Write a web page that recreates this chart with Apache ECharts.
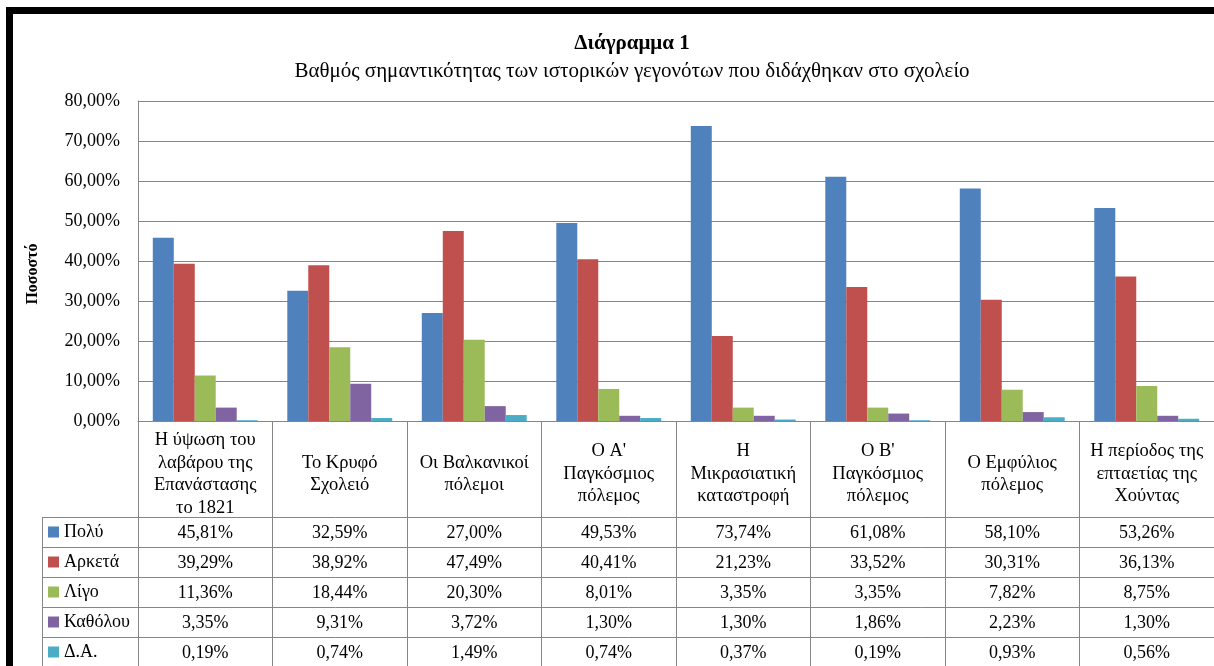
<!DOCTYPE html>
<html>
<head>
<meta charset="utf-8">
<script src="https://cdn.jsdelivr.net/npm/echarts@6/dist/echarts.min.js"></script>
<style>
  html, body { margin: 0; padding: 0; background: #fff; overflow: hidden; }
  #chart { position: absolute; left: 0; top: 0; width: 1214px; height: 666px; }
  #frame { position: absolute; left: 6px; top: 7px; width: 1400px; height: 900px; border: 7px solid #000; pointer-events: none; }
</style>
</head>
<body>
<div id="chart"></div>
<div id="frame"></div>
<script>
const titleText = 'Διάγραμμα 1';
const subtitleText = 'Βαθμός σημαντικότητας των ιστορικών γεγονότων που διδάχθηκαν στο σχολείο';
const yAxisTitle = 'Ποσοστό';
const categories = [
  'Η ύψωση του\nλαβάρου της\nΕπανάστασης\nτο 1821',
  'Το Κρυφό\nΣχολειό',
  'Οι Βαλκανικοί\nπόλεμοι',
  "Ο Α'\nΠαγκόσμιος\nπόλεμος",
  'Η\nΜικρασιατική\nκαταστροφή',
  "Ο Β'\nΠαγκόσμιος\nπόλεμος",
  'Ο Εμφύλιος\nπόλεμος',
  'Η περίοδος της\nεπταετίας της\nΧούντας'
];
const seriesNames = ['Πολύ', 'Αρκετά', 'Λίγο', 'Καθόλου', 'Δ.Α.'];
const poly     = [45.81, 32.59, 27.00, 49.53, 73.74, 61.08, 58.10, 53.26];
const arketa   = [39.29, 38.92, 47.49, 40.41, 21.23, 33.52, 30.31, 36.13];
const ligo     = [11.36, 18.44, 20.30, 8.01, 3.35, 3.35, 7.82, 8.75];
const katholou = [3.35, 9.31, 3.72, 1.30, 1.30, 1.86, 2.23, 1.30];
const da       = [0.19, 0.74, 1.49, 0.74, 0.37, 0.19, 0.93, 0.56];
const seriesValues = [poly, arketa, ligo, katholou, da];
const colors = ['#4F81BD', '#C0504D', '#9BBB59', '#8064A2', '#4BACC6'];
const yMin = 0, yMax = 80, yStep = 10;

const FONT = 'Liberation Serif';
const GRAY = '#868686';
const fmt = v => v.toFixed(2).replace('.', ',') + '%';

const chart = echarts.init(document.getElementById('chart'), null, { renderer: 'canvas' });

const gridLeft = 138, gridTop = 101, gridWidth = 1080, gridHeight = 320;
const tableTop = 517, rowH = 30, tableLeft = 42;

chart.setOption({
  backgroundColor: '#fff',
  animation: false,
  color: colors,
  title: [
    { text: titleText, left: 627, top: 28, textAlign: 'center',
      textStyle: { fontFamily: FONT, fontSize: 21, fontWeight: 'bold', color: '#000' } },
    { text: subtitleText, left: 627, top: 56, textAlign: 'center',
      textStyle: { fontFamily: FONT, fontSize: 21, fontWeight: 'normal', color: '#000' } }
  ],
  legend: {
    orient: 'vertical', left: 48, top: tableTop, height: 220, padding: 0, itemGap: 0,
    itemWidth: 11, itemHeight: 11, icon: 'rect',
    data: seriesNames,
    textStyle: { fontFamily: FONT, fontSize: 18, color: '#000', lineHeight: rowH }
  },
  grid: { left: gridLeft, top: gridTop, width: gridWidth, height: gridHeight, containLabel: false },
  xAxis: {
    type: 'category', data: categories, boundaryGap: true,
    axisLine: { show: true, lineStyle: { color: GRAY, width: 1 } },
    axisTick: { show: true, length: 260, lineStyle: { color: GRAY, width: 1 } },
    axisLabel: { interval: 0, margin: 53, verticalAlign: 'middle', lineHeight: 22.5,
      fontFamily: FONT, fontSize: 18.5, color: '#000' }
  },
  yAxis: {
    type: 'value', min: yMin, max: yMax, interval: yStep,
    axisLine: { show: true, lineStyle: { color: GRAY, width: 1 } },
    axisTick: { show: false },
    splitLine: { show: true, lineStyle: { color: GRAY, width: 1 } },
    axisLabel: { margin: 18, fontFamily: FONT, fontSize: 18, color: '#000', formatter: fmt }
  },
  series: seriesNames.map((n, i) => ({
    name: n, type: 'bar', data: seriesValues[i],
    barGap: '0%', barCategoryGap: '22%',
    itemStyle: { color: colors[i] }
  }))
});

// Data table drawn from the same arrays, positioned through the category axis
const xCenters = categories.map(c => chart.convertToPixel({ xAxisIndex: 0 }, c));
const gridRight = gridLeft + gridWidth;
const els = [];
for (let r = 0; r <= seriesNames.length; r++) {
  const y = tableTop + r * rowH + 0.5;
  els.push({ type: 'line', silent: true, shape: { x1: tableLeft, y1: y, x2: gridRight, y2: y },
    style: { stroke: GRAY, lineWidth: 1 } });
}
els.push({ type: 'line', silent: true,
  shape: { x1: tableLeft + 0.5, y1: tableTop, x2: tableLeft + 0.5, y2: tableTop + rowH * seriesNames.length + 5 },
  style: { stroke: GRAY, lineWidth: 1 } });
seriesValues.forEach((vals, r) => {
  vals.forEach((v, c) => {
    els.push({ type: 'text', silent: true, x: xCenters[c], y: tableTop + r * rowH + rowH / 2 + 1,
      style: { text: fmt(v), fill: '#000', font: '18px "' + FONT + '"', align: 'center', verticalAlign: 'middle' } });
  });
});
els.push({ type: 'text', silent: true, x: 33, y: 274, rotation: Math.PI / 2,
  style: { text: yAxisTitle, fill: '#000', font: 'bold 16px "' + FONT + '"', align: 'center', verticalAlign: 'middle' } });

chart.setOption({ graphic: { elements: els } });
</script>
</body>
</html>
